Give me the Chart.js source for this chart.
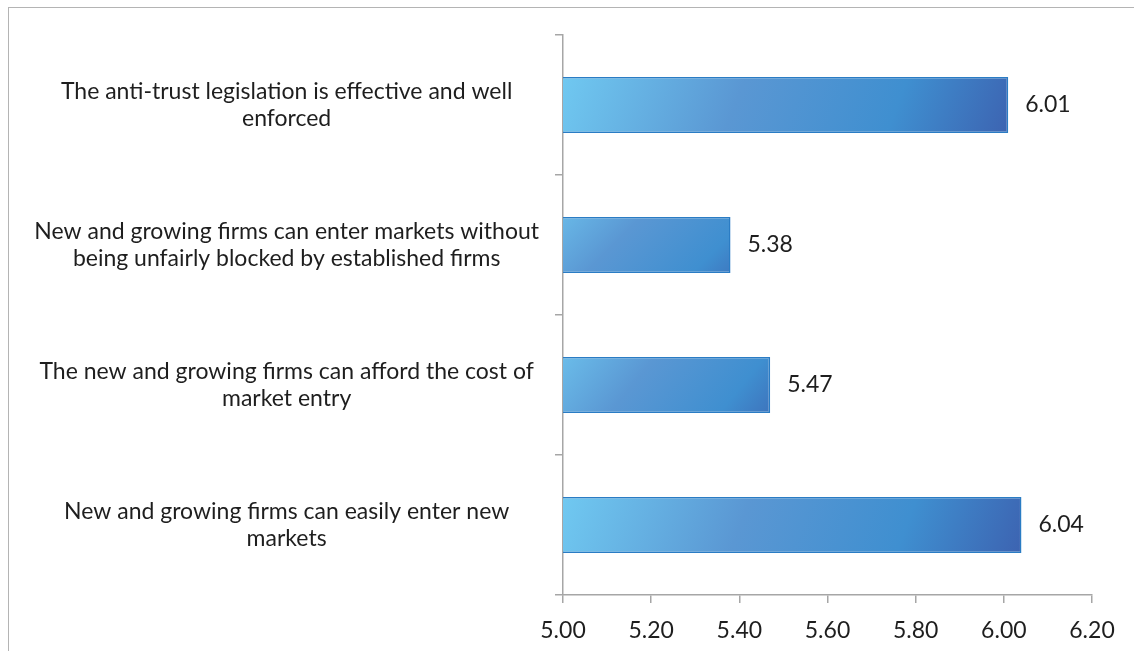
<!DOCTYPE html>
<html>
<head>
<meta charset="utf-8">
<script src="https://cdn.jsdelivr.net/npm/chart.js@4/dist/chart.umd.min.js"></script>
<style>
  html, body { margin: 0; padding: 0; background: #fff; overflow: hidden; }
  #wrap { position: relative; width: 1134px; height: 651px; }
  #frame {
    position: absolute; left: 8px; top: 7px; width: 1400px; height: 900px;
    border-left: 1.5px solid #b4b4b4; border-top: 1.5px solid #b4b4b4;
  }
  #chart { position: absolute; left: 0; top: 0; }
</style>
</head>
<body>
<div id="wrap">
  <div id="frame"></div>
  <canvas id="chart" width="1134" height="651"></canvas>
</div>
<script>
'use strict';

const CATEGORIES = [
  ['The anti-trust legislation is effective and well', 'enforced'],
  ['New and growing firms can enter markets without', 'being unfairly blocked by established firms'],
  ['The new and growing firms can afford the cost of', 'market entry'],
  ['New and growing firms can easily enter new', 'markets'],
];
const SCORES = [6.01, 5.38, 5.47, 6.04];
const X_MIN  = 5.0;
const X_MAX  = 6.2;
const X_STEP = 0.2;

const FONT      = { family: 'Lato, "Noto Sans", sans-serif', size: 23, lineHeight: 1.2 };
const TEXT      = '#1e1e1e';
const AXIS_GRAY = '#a6a6a6';

// each bar gets its own diagonal light-cyan -> deep-blue fill
function barFill(ctx) {
  const chart = ctx.chart;
  const xs = chart.scales.x;
  const ys = chart.scales.y;
  if (!xs || !ys || ctx.dataIndex === undefined) return '#4a90d0';
  const x0 = xs.getPixelForValue(X_MIN);
  const x1 = xs.getPixelForValue(SCORES[ctx.dataIndex]);
  const yc = ys.getPixelForValue(ctx.dataIndex);
  if (![x0, x1, yc].every(Number.isFinite)) return '#4a90d0';
  const half = 28;
  const g = chart.ctx.createLinearGradient(x0, yc - half * 3, x1, yc + half * 3);
  g.addColorStop(0,    '#72cef4');
  g.addColorStop(0.4,  '#5a97d3');
  g.addColorStop(0.72, '#3f8fd0');
  g.addColorStop(1,    '#3c5cac');
  return g;
}

const valueLabels = {
  id: 'valueLabels',
  afterDatasetsDraw(chart) {
    const { ctx } = chart;
    const meta = chart.getDatasetMeta(0);
    ctx.save();
    ctx.font = `${FONT.size}px ${FONT.family}`;
    ctx.fillStyle = TEXT;
    ctx.textAlign = 'left';
    ctx.textBaseline = 'middle';
    meta.data.forEach((bar, i) => {
      ctx.fillText(SCORES[i].toFixed(2), bar.x + 17, bar.y);
    });
    ctx.restore();
  },
};

new Chart(document.getElementById('chart'), {
  type: 'bar',
  data: {
    labels: CATEGORIES,
    datasets: [{
      data: SCORES,
      backgroundColor: barFill,
      borderColor: '#2a7cc4',
      borderWidth: 1.5,
      borderSkipped: false,
      categoryPercentage: 0.8,
      barPercentage: 0.5,
    }],
  },
  options: {
    indexAxis: 'y',
    responsive: false,
    animation: false,
    layout: { padding: { top: 35, right: 42, left: 0, bottom: 0 } },
    plugins: {
      legend:  { display: false },
      tooltip: { enabled: false },
    },
    scales: {
      x: {
        min: X_MIN,
        max: X_MAX,
        ticks: {
          stepSize: X_STEP,
          color: TEXT,
          font: FONT,
          padding: 14,
          callback: v => Number(v).toFixed(2),
        },
        grid: { drawOnChartArea: false, color: AXIS_GRAY, tickLength: 8, lineWidth: 1.5 },
        border: { color: AXIS_GRAY, width: 1.5 },
        afterFit: s => { s.height = 56; },
      },
      y: {
        ticks: {
          color: TEXT,
          font: FONT,
          crossAlign: 'center',
          padding: 16,
        },
        grid: { drawOnChartArea: false, offset: true, color: AXIS_GRAY, tickLength: 8, lineWidth: 1.5 },
        border: { color: AXIS_GRAY, width: 1.5 },
        afterFit: s => {
          s.width = 563;
          s.paddingTop = 0;
          s.paddingBottom = 0;
        },
      },
    },
  },
  plugins: [valueLabels],
});
</script>
</body>
</html>
